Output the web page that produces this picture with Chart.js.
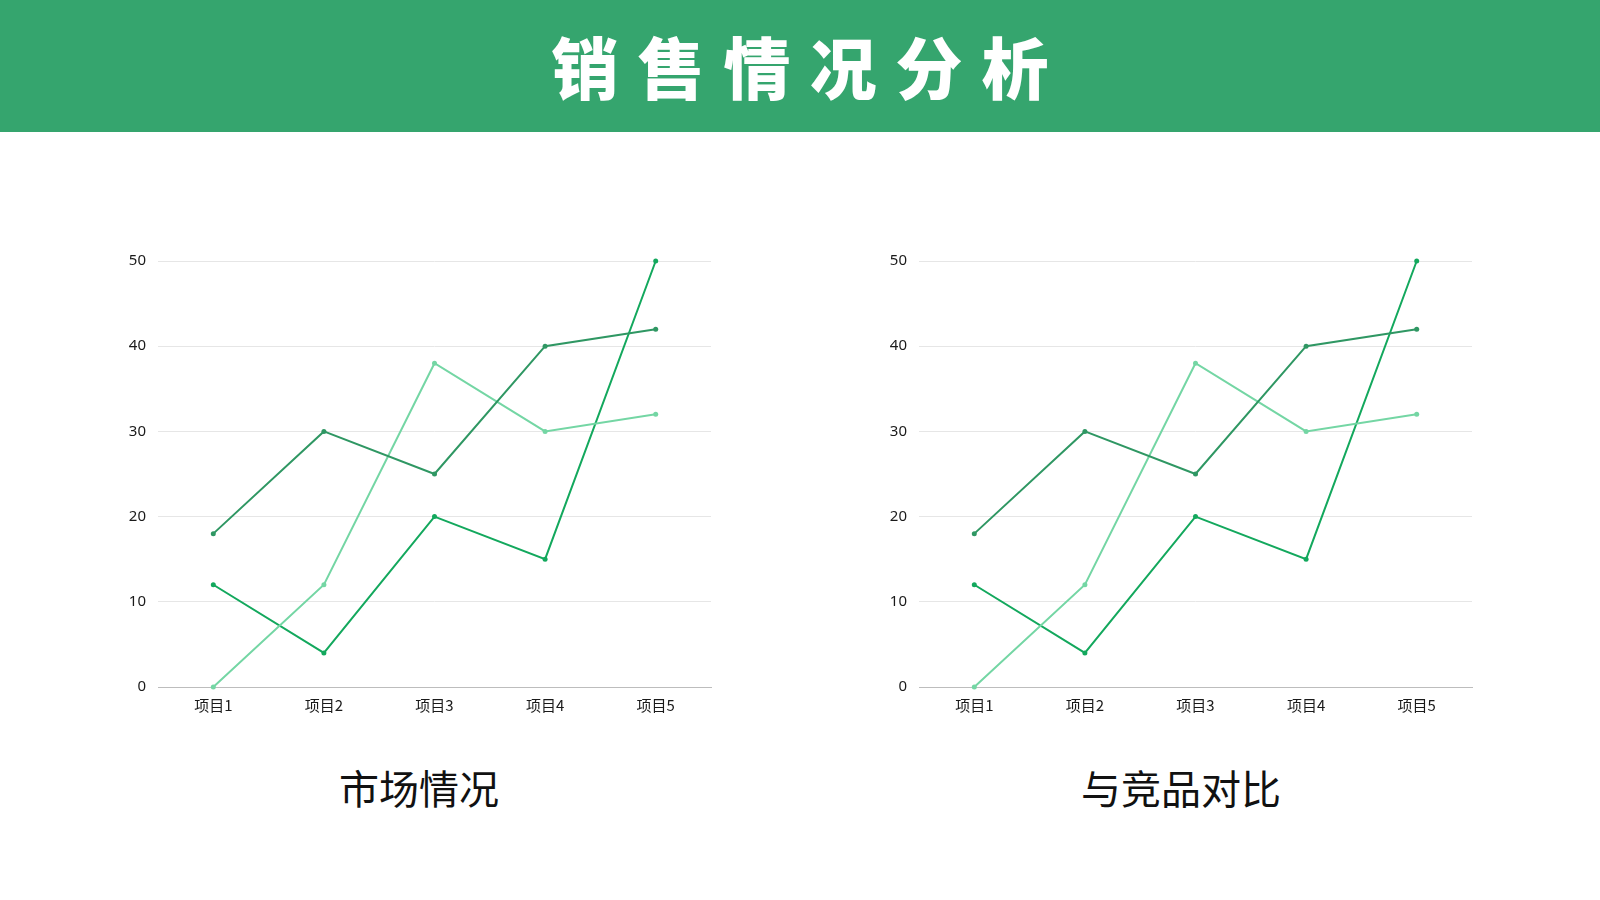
<!DOCTYPE html>
<html>
<head>
<meta charset="utf-8">
<script src="https://cdn.jsdelivr.net/npm/chart.js@4"></script>
<style>
  body { margin: 0; width: 1600px; height: 900px; background: #fff; position: relative; overflow: hidden;
         font-family: "Noto Sans CJK SC", "Noto Sans", sans-serif; }
  .header { position: absolute; left: 0; top: 0; width: 1600px; height: 132px; background: #35a56e; }
  .header h1 { margin: 0; position: absolute; left: 0; width: 1600px; top: 19px; text-align: center;
               color: #fff; font-size: 67px; font-weight: 900; letter-spacing: 19px; line-height: 92px;
               padding-left: 19px; box-sizing: border-box; }
  .box { position: absolute; top: 240px; width: 605px; height: 487px; }
  .cap { position: absolute; top: 760px; width: 400px; text-align: center; font-size: 40px; color: #111; line-height: 54px; }
</style>
</head>
<body>
<div class="header"><h1>销售情况分析</h1></div>
<div class="box" style="left:110px"><canvas id="chart1"></canvas></div>
<div class="box" style="left:871px"><canvas id="chart2"></canvas></div>
<div class="cap" style="left:219px">市场情况</div>
<div class="cap" style="left:981px">与竞品对比</div>
<script>
const categories = ['项目1', '项目2', '项目3', '项目4', '项目5'];
const seriesA = [18, 30, 25, 40, 42];
const seriesB = [0, 12, 38, 30, 32];
const seriesC = [12, 4, 20, 15, 50];
const yTicks = [0, 10, 20, 30, 40, 50];

const colors = ['#2f9763', '#74d6a4', '#13a85d'];

function makeChart(id) {
  const ctx = document.getElementById(id).getContext('2d');
  return new Chart(ctx, {
    type: 'line',
    data: {
      labels: categories,
      datasets: [seriesA, seriesB, seriesC].map((d, i) => ({
        data: d,
        borderColor: colors[i],
        backgroundColor: colors[i],
        borderWidth: 2,
        pointRadius: 2.5,
        pointBorderWidth: 0,
        tension: 0,
        clip: false
      }))
    },
    options: {
      responsive: true,
      maintainAspectRatio: false,
      animation: false,
      layout: { padding: 0 },
      plugins: { legend: { display: false }, tooltip: { enabled: false } },
      scales: {
        x: {
          offset: true,
          grid: { display: false, drawTicks: false },
          border: { color: '#bdbdbd', width: 1 },
          ticks: { color: '#1a1a1a', padding: 9, font: { family: '"Noto Sans CJK SC"', size: 15 } },
          afterFit: s => { s.height = 40; }
        },
        y: {
          min: 0,
          max: 50,
          afterBuildTicks: s => { s.ticks = yTicks.map(v => ({ value: v })); },
          grid: { color: '#e6e6e6', drawTicks: false },
          border: { display: false },
          ticks: { color: '#1a1a1a', padding: 12, font: { family: '"Noto Sans"', size: 15 } },
          afterFit: s => { s.width = 48; }
        }
      }
    }
  });
}

makeChart('chart1');
makeChart('chart2');
</script>
</body>
</html>
